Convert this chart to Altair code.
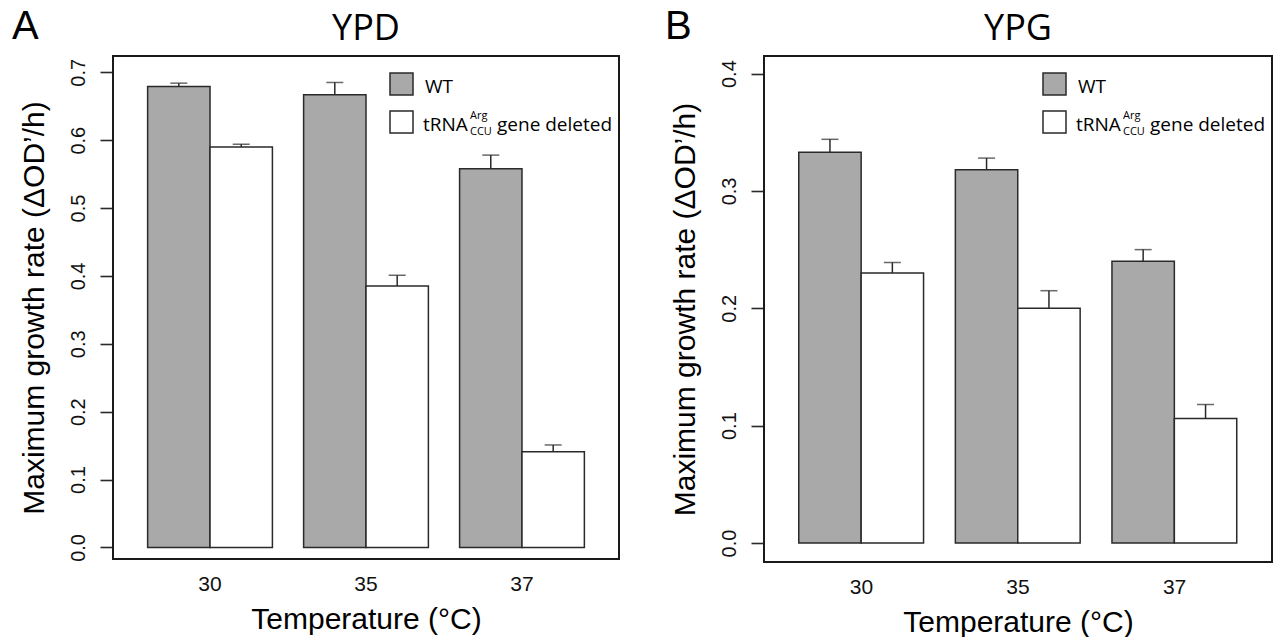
import altair as alt
import pandas as pd

temps = ["30", "35", "37"]
strains = ["WT", "deleted"]

# YPD panel values (bar height, top of error bar)
ypd_wt = [0.679, 0.667, 0.558]
ypd_wt_up = [0.684, 0.685, 0.578]
ypd_del = [0.590, 0.385, 0.141]
ypd_del_up = [0.594, 0.401, 0.151]

# YPG panel values
ypg_wt = [0.333, 0.318, 0.240]
ypg_wt_up = [0.344, 0.328, 0.250]
ypg_del = [0.230, 0.200, 0.106]
ypg_del_up = [0.239, 0.215, 0.118]

ypd_ticks = [0.0, 0.1, 0.2, 0.3, 0.4, 0.5, 0.6, 0.7]
ypg_ticks = [0.0, 0.1, 0.2, 0.3, 0.4]

AX_FONT = "Liberation Sans"
TX_FONT = "Open Sans"
EDGE = "#2a2a2a"


def make_df(wt, wt_up, de, de_up):
    rows = []
    for i, t in enumerate(temps):
        rows.append(dict(temp=t, strain="WT", value=wt[i], upper=wt_up[i]))
        rows.append(dict(temp=t, strain="deleted", value=de[i], upper=de_up[i]))
    return pd.DataFrame(rows)


def one_row():
    return pd.DataFrame({"k": [0]})


def panel(df, title, letter, letter_x, domain, ticks, width, height):
    xenc = alt.X(
        "temp:N",
        sort=temps,
        scale=alt.Scale(paddingInner=0.2, paddingOuter=0.222),
        axis=alt.Axis(
            title="Temperature (°C)",
            labelAngle=0,
            ticks=False,
            tickSize=0,
            domain=False,
            labelFont=AX_FONT,
            labelFontSize=21,
            labelColor="#111111",
            labelPadding=14,
            titleFont=AX_FONT,
            titleFontSize=30,
            titleFontWeight="normal",
            titleColor="#000000",
            titlePadding=10,
        ),
    )
    xoff = alt.XOffset(
        "strain:N",
        sort=strains,
        scale=alt.Scale(domain=strains, paddingInner=0, paddingOuter=0),
    )

    def yenc(field):
        return alt.Y(
            field,
            type="quantitative",
            scale=alt.Scale(domain=domain, nice=False, zero=False),
            axis=alt.Axis(
                title="Maximum growth rate (ΔOD’/h)",
                values=ticks,
                format=".1f",
                grid=False,
                domain=False,
                tickSize=13,
                tickColor=EDGE,
                tickWidth=1.6,
                labelAngle=-90,
                labelAlign="center",
                labelBaseline="bottom",
                labelFont=AX_FONT,
                labelFontSize=20,
                labelColor="#111111",
                labelPadding=12,
                titleFont=AX_FONT,
                titleFontSize=30,
                titleFontWeight="normal",
                titleColor="#000000",
                titlePadding=19,
            ),
        )

    base = alt.Chart(df)
    bars = base.mark_bar(stroke=EDGE, strokeWidth=1.5).encode(
        x=xenc,
        xOffset=xoff,
        y=yenc("value"),
        y2=alt.datum(0),
        fill=alt.Fill(
            "strain:N",
            scale=alt.Scale(domain=strains, range=["#a9a9a9", "#ffffff"]),
            legend=None,
        ),
    )
    stems = base.mark_rule(color=EDGE, strokeWidth=1.5).encode(
        x=xenc, xOffset=xoff, y=yenc("value"), y2="upper:Q"
    )
    caps = base.mark_tick(color=EDGE, thickness=1.5, size=17).encode(
        x=xenc, xOffset=xoff, y=yenc("upper")
    )

    # plot frame (box drawn around the plotting region)
    frame = alt.Chart(one_row()).mark_rect(
        fill="transparent", stroke="#1a1a1a", strokeWidth=2
    ).encode(x=alt.value(0), x2=alt.value(width), y=alt.value(0), y2=alt.value(height))

    lx = width - 229
    leg = []
    leg.append(
        alt.Chart(one_row()).mark_rect(fill="#a9a9a9", stroke=EDGE, strokeWidth=1.5).encode(
            x=alt.value(lx), x2=alt.value(lx + 23), y=alt.value(17), y2=alt.value(39)
        )
    )
    leg.append(
        alt.Chart(one_row()).mark_rect(fill="#ffffff", stroke=EDGE, strokeWidth=1.5).encode(
            x=alt.value(lx), x2=alt.value(lx + 23), y=alt.value(55), y2=alt.value(77)
        )
    )

    def txt(s, x, y, size, align="left", font=TX_FONT):
        return alt.Chart(one_row()).mark_text(
            text=s, font=font, fontSize=size, align=align, baseline="alphabetic", color="#000000"
        ).encode(x=alt.value(x), y=alt.value(y))

    leg.append(txt("WT", lx + 35, 37, 19))
    leg.append(txt("tRNA", lx + 33, 75, 19))
    leg.append(txt("Arg", lx + 80, 63, 11))
    leg.append(txt("CCU", lx + 80, 79, 11))
    leg.append(txt("gene deleted", lx + 107, 75, 19))
    leg.append(txt(title, width / 2, -16, 36, align="center"))
    leg.append(txt(letter, letter_x, -17, 40, font=AX_FONT))

    return alt.layer(bars, stems, caps, frame, *leg).properties(
        width=width,
        height=height,
        view=alt.ViewBackground(strokeWidth=0, fill="white"),
    )


ypd = panel(
    make_df(ypd_wt, ypd_wt_up, ypd_del, ypd_del_up),
    "YPD", "A", -101, [-0.017, 0.724], ypd_ticks, 506, 503,
)
ypg = panel(
    make_df(ypg_wt, ypg_wt_up, ypg_del, ypg_del_up),
    "YPG", "B", -99, [-0.0162, 0.415], ypg_ticks, 508, 506,
)

chart = (
    alt.hconcat(ypd, ypg, spacing=45)
    .properties(padding={"left": 12, "top": 7, "right": 5, "bottom": 0})
    .configure(background="white")
    .configure_view(strokeWidth=0)
)

chart.save("out.html", embed_options={"renderer": "svg", "actions": False})
